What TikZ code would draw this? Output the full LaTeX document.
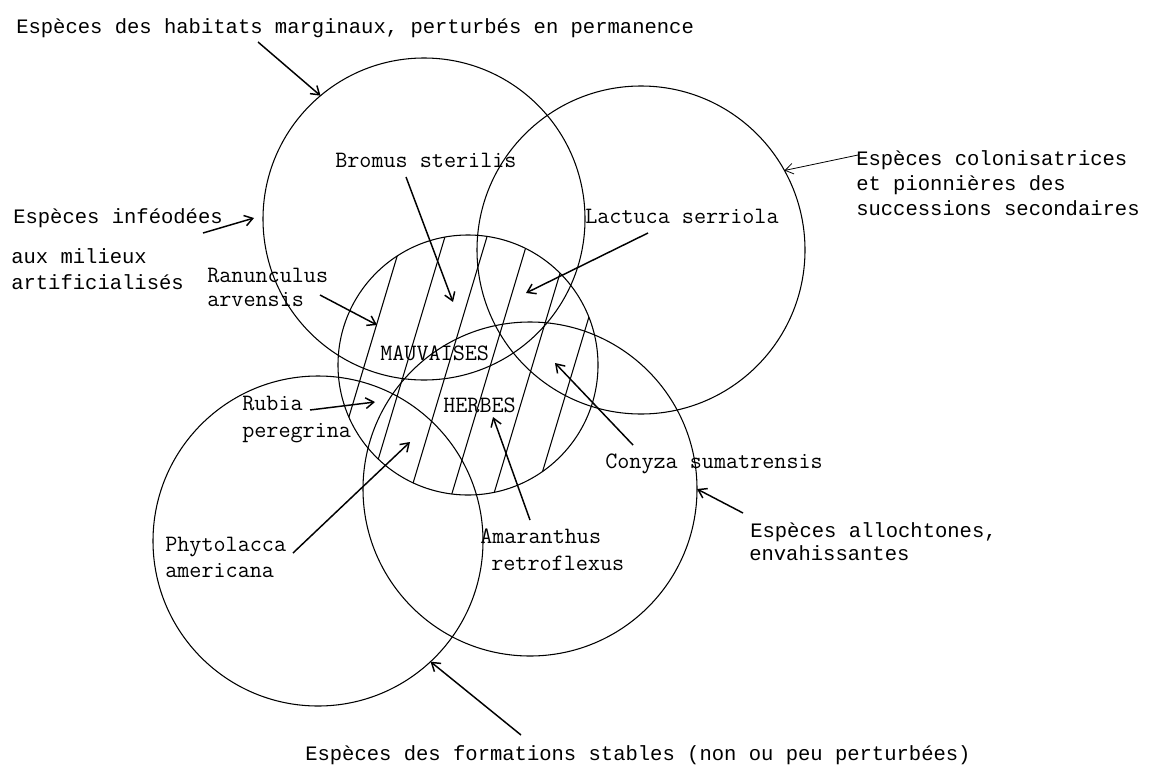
\documentclass[tikz,border=0pt]{standalone}
\usepackage{fontspec}
\usepackage{tikz}
\usetikzlibrary{arrows.meta,calc}
\newfontfamily\labelfont{Liberation Mono}

\begin{document}
\begin{tikzpicture}[x=0.75pt,y=0.75pt,yscale=-1,xscale=1,
  venn/.style={draw,circle,line width=0.8pt,inner sep=0pt,outer sep=0pt},
  hatch/.style={line width=0.8pt},
  arr/.style={line width=1.1pt,-{Straight Barb[length=6pt,width=8pt]}},
  lbl/.style={font=\labelfont\fontsize{15.4}{18}\selectfont,inner sep=0pt,anchor=base west},
  spc/.style={font=\ttfamily\fontsize{17.6}{20}\selectfont,inner sep=0pt,anchor=base west}]
\useasboundingbox (0,0) rectangle (1149,771);

%Shape: Circle (habitats marginaux)
\node (cA) [venn,minimum size=241.5pt] at (424,219) {};
%Shape: Circle (colonisatrices)
\node (cB) [venn,minimum size=246pt] at (641,250) {};
%Shape: Circle (mauvaises herbes)
\node (cC) [venn,minimum size=195pt] at (468,365) {};
%Shape: Circle (formations stables)
\node (cD) [venn,minimum size=247.5pt] at (318,541) {};
%Shape: Circle (allochtones)
\node (cE) [venn,minimum size=250.5pt] at (530,489) {};

%Hatching of the central circle
\begin{scope}
\clip (468,365) circle (130);
\foreach \hx in {354,396,438,480,522,564}
  \draw [hatch] (\hx+60,200) -- (\hx-45,550);
\end{scope}

% Text Node
\node (hab) [lbl] at (16,33) {Espèces des habitats marginaux, perturbés en permanence};
% Text Node
\node (infA) [lbl] at (13,223) {Espèces inféodées};
\node (infB) [lbl] at (11,263) {aux milieux};
\node (infC) [lbl] at (11,289) {artificialisés};
% Text Node
\node (colA) [lbl] at (856,165) {Espèces colonisatrices};
\node (colB) [lbl] at (856,190) {et pionnières des};
\node (colC) [lbl] at (856,215) {successions secondaires};
% Text Node
\node (allA) [lbl] at (750,537) {Espèces allochtones,};
\node (allB) [lbl] at (749,560) {envahissantes};
% Text Node
\node (form) [lbl] at (305,760) {Espèces des formations stables (non ou peu perturbées)};

% Text Node
\node (bromus) [spc] at (335,167) {Bromus sterilis};
% Text Node
\node (lactuca) [spc] at (585,223) {Lactuca serriola};
% Text Node
\node (ranA) [spc] at (207,282) {Ranunculus};
\node (ranB) [spc] at (207,306) {arvensis};
% Text Node
\node (mauv) [spc] at (380,360) {MAUVAISES};
\node (herbes) [spc] at (443,412) {HERBES};
% Text Node
\node (rubA) [spc] at (242,410) {Rubia};
\node (rubB) [spc] at (242,437) {peregrina};
% Text Node
\node (phyA) [spc] at (165,551) {Phytolacca};
\node (phyB) [spc] at (165,577) {americana};
% Text Node
\node (amaA) [spc] at (480,543) {Amaranthus};
\node (amaB) [spc] at (491,570) {retroflexus};
% Text Node
\node (conyza) [spc] at (605,468) {Conyza sumatrensis};

%Arrow heads inside the circles
\coordinate (hInf) at (254,218);
\coordinate (hRan) at (377,325);
\coordinate (hBro) at (453,302);
\coordinate (hLac) at (526,293);
\coordinate (hRub) at (375,402);
\coordinate (hPhy) at (410,442);
\coordinate (hAma) at (493,417);
\coordinate (hCon) at (555,363);

%Straight Lines
\draw [arr] ($(hab.base west)+(242,9)$) -- (cA.130);
\draw [arr] ($(infA.base west)+(190,10)$) -- (hInf);
\draw [arr] ($(ranB.base west)+(113,-11)$) -- (hRan);
\draw [arr] ($(bromus.base west)+(71,10)$) -- (hBro);
\draw [arr] ($(lactuca.base west)+(63,10)$) -- (hLac);
\draw [arr,line width=0.6pt] ($(colA.base west)+(2,-10)$) -- (cB.29);
\draw [arr] ($(rubA.base west)+(68,0)$) -- (hRub);
\draw [arr] ($(phyA.base west)+(128,2)$) -- (hPhy);
\draw [arr] ($(amaA.base west)+(50,-23)$) -- (hAma);
\draw [arr] ($(conyza.base west)+(28,-23)$) -- (hCon);
\draw [arr] ($(allA.base west)+(-7,-24)$) -- (cE.0);
\draw [arr] ($(form.base west)+(216,-25)$) -- (cD.-47);

\end{tikzpicture}
\end{document}
